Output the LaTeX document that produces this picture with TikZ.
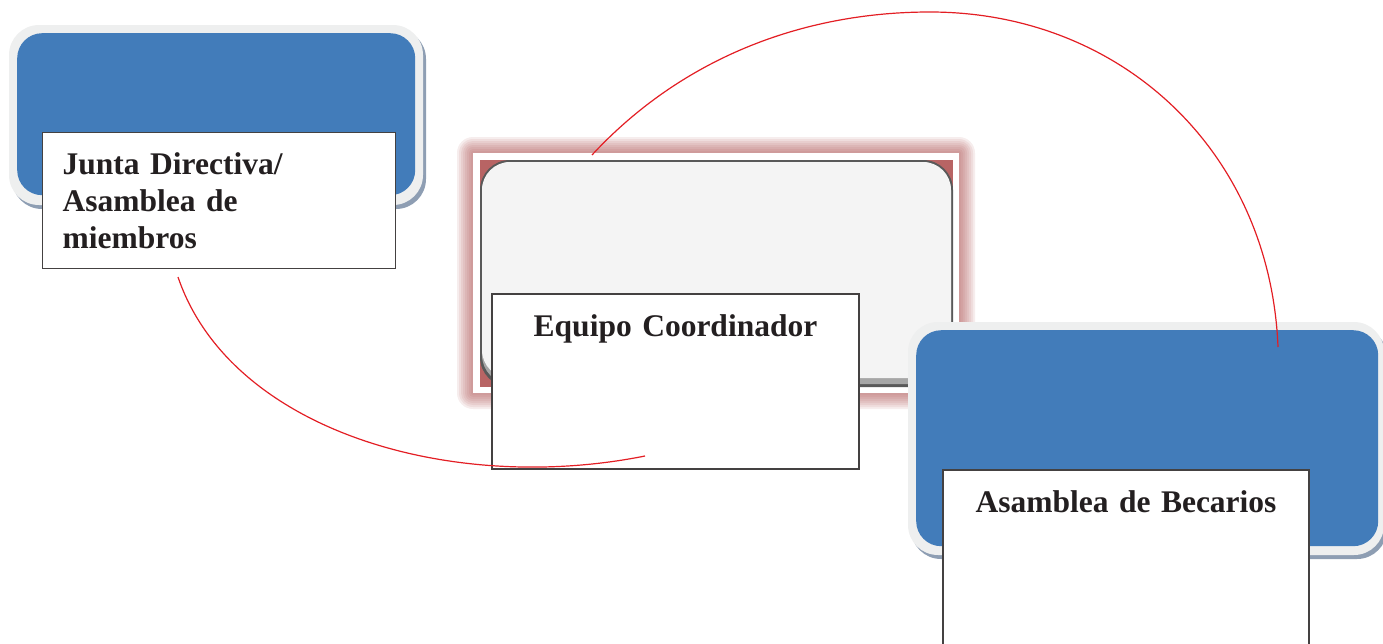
\documentclass[tikz,border=0pt]{standalone}
\usepackage{fontspec}
\setmainfont{Liberation Serif}
\definecolor{boxblue}{HTML}{427CBA}
\definecolor{framegray}{HTML}{EEEFEF}
\definecolor{shadowblue}{HTML}{8E9EB3}
\definecolor{glowred}{HTML}{B05A5A}
\definecolor{bandred}{HTML}{B86464}
\definecolor{panelgray}{HTML}{F4F4F4}
\definecolor{linkred}{HTML}{E31E24}
\definecolor{textblack}{HTML}{231F20}
\begin{document}
\begin{tikzpicture}
    [
        x = 1pt, y = -1pt,
        label font/.style = {font=\fontsize{31.5}{37}\selectfont\bfseries, text=textblack},
        bluebox/.style = {fill=boxblue, rounded corners=25pt, inner sep=0pt, anchor=north west},
        textbox/.style = {label font, draw=textblack!85, line width=1.2pt, fill=white, inner ysep=20pt},
        link/.style = {draw=linkred, line width=1.2pt},
    ]
    \useasboundingbox (0,0) rectangle (1383,643);

    % Junta Directiva
    \fill[shadowblue, rounded corners=30pt] (12,29) rectangle (426,209);
    \fill[framegray, rounded corners=30pt] (9,25) rectangle (423,205);
    \node[bluebox, minimum width=398pt, minimum height=162pt] (jdblue) at (17,33) {};
    \node[textbox, anchor=north west, inner xsep=20pt, text width=313pt,
          minimum height=136pt, align=left] (jdtext) at (42,132)
        {Junta Directiva/\\Asamblea de\\miembros};

    % Equipo Coordinador
    \foreach \g in {16,14,...,2}
        \fill[glowred, opacity=0.11, rounded corners=\g pt] (473-\g,153-\g) rectangle (959+\g,393+\g);
    \fill[white] (473,153) rectangle (959,393);
    \fill[bandred] (480,160) rectangle (953,387);
    \fill[black!65, rounded corners=30pt] (480,160) rectangle (953,387);
    \fill[black!35, rounded corners=29pt] (482,162) rectangle (951,384);
    \fill[panelgray, rounded corners=28pt] (482,162) rectangle (951,378);
    \node[textbox, anchor=base, text width=327pt, inner xsep=20pt, align=center,
          text height=22pt, text depth=113pt] (eqtext) at (675.5,336)
        {Equipo Coordinador};

    % Asamblea de Becarios
    \fill[shadowblue, rounded corners=30pt] (911,327) rectangle (1387,559);
    \fill[framegray, rounded corners=30pt] (908,322) rectangle (1384,555);
    \node[bluebox, minimum width=462pt, minimum height=216pt] (abblue) at (916,330) {};
    \node[textbox, anchor=base, text width=326pt, inner xsep=20pt, align=center,
          text height=22pt, text depth=150pt] (abtext) at (1126,512)
        {Asamblea de Becarios};

    % conexiones
    \coordinate (jdend) at (178,277);
    \coordinate (eqend) at (645,456);
    \coordinate (eqtop) at (592,155);
    \coordinate (abend) at (1278,347);
    \draw[link] (jdend) .. controls (230,430) and (450,495) .. (eqend);
    \draw[link] (eqtop) .. controls (680,60) and (800,12) .. (930,12)
        .. controls (1120,12) and (1270,150) .. (abend);
\end{tikzpicture}
\end{document}
